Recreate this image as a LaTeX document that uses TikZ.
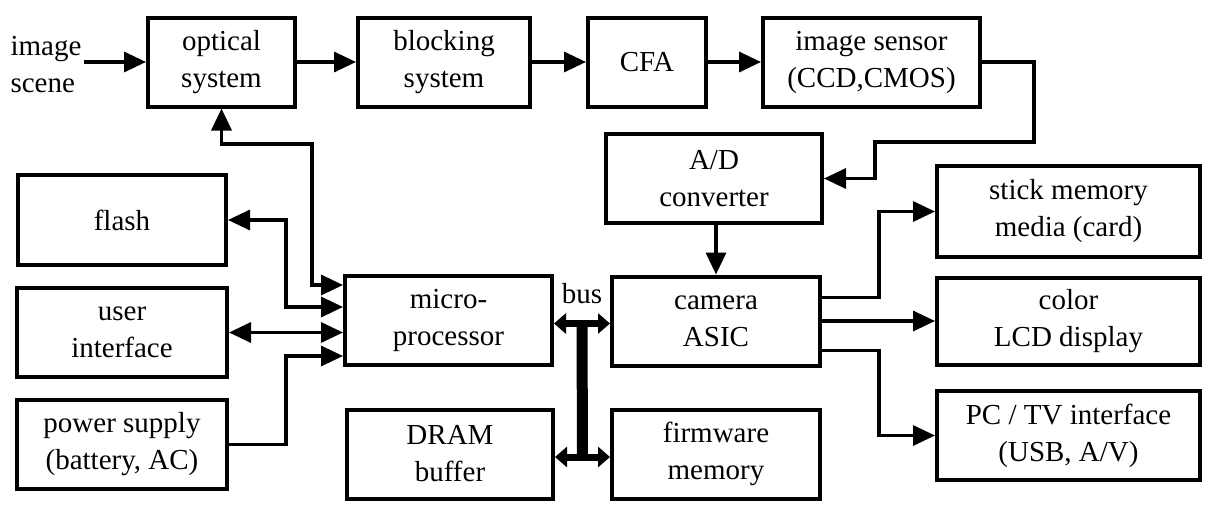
\documentclass[tikz,border=0pt]{standalone}
\usepackage{fontspec}
\setmainfont{Liberation Serif}
\usepackage{tikz}
\usetikzlibrary{calc}
\usetikzlibrary{arrows.meta}
\usetikzlibrary{positioning}
\newcommand\blkfont{\fontsize{14.5}{18.5}\selectfont}
\pgfkeys{tikz/blk/.style={draw,line width=2pt,minimum height=44.5pt,inner sep=0pt,align=center,font=\blkfont}}
\pgfkeys{tikz/wire/.style={line width=1.7pt,>={Triangle[length=11pt,width=10pt]}}}
\pgfkeys{tikz/buswire/.style={line width=3.5pt,>={Triangle[length=6pt,width=10pt]}}}

\begin{document}
\begin{tikzpicture}[x=0.5pt,y=-0.5pt]
    \useasboundingbox (0,0) rectangle (1211,514);
    % capture chain
    \node[align=left,inner sep=1pt,font=\blkfont](scene) at (46,65) {image\\scene};
    \node[blk,minimum width=73.5pt](optical) at (221.5,62) {optical\\system};
    \node[blk,minimum width=86pt](blocking) at (444,62) {blocking\\system};
    \node[blk,minimum width=59pt](cfa) at (647,62) {CFA};
    \node[blk,minimum width=108.5pt](sensor) at (871.5,62) {image sensor\\(CCD,CMOS)};
    \node[blk,minimum width=108pt](adc) at (714,178.5) {A/D\\converter};
    % left column
    \node[blk,minimum width=104pt,minimum height=45pt](flash) at (122,220) {flash};
    \node[blk,minimum width=105pt](user) at (122,332.5) {user\\interface};
    \node[blk,minimum width=105pt](power) at (122,444.5) {power supply\\(battery, AC)};
    % middle
    \node[blk,minimum width=103.5pt](micro) at (448.5,320.5) {micro-\\processor};
    \node[blk,minimum width=104pt](camera) at (716,321) {camera\\ASIC};
    \node[blk,minimum width=103pt](dram) at (450,454) {DRAM\\buffer};
    \node[blk,minimum width=104pt](firmware) at (716,454) {firmware\\memory};
    \node[font=\blkfont,inner sep=1pt](buslabel) at (582,294) {bus};
    % right column
    \node[blk,minimum width=131.5pt,minimum height=45.5pt](stick) at (1068.5,211.5) {stick memory\\media (card)};
    \node[blk,minimum width=131.5pt,minimum height=43.5pt](lcd) at (1068.5,321.5) {color\\LCD display};
    \node[blk,minimum width=131.5pt](pctv) at (1068.5,435.5) {PC / TV interface\\(USB, A/V)};

    \draw[wire,->] (scene.east |- optical.west) -- (optical.west);
    \draw[wire,->] (optical.east) -- (blocking.west);
    \draw[wire,->] (blocking.east) -- (cfa.west);
    \draw[wire,->] (cfa.east) -- (sensor.west);
    \coordinate (s1) at (1034,142);
    \coordinate (s2) at (875,142);
    \draw[wire,->] (sensor.east) -| (s1) -- (s2) |- (adc.east);
    \draw[wire,->] (camera.north |- adc.south) -- (camera.north);

    % control lines into the microprocessor
    \coordinate (m1) at ($(micro.north west)+(0,11)$);
    \coordinate (m2) at ($(micro.north west)+(0,33)$);
    \coordinate (m4) at ($(micro.south west)+(0,-11)$);
    \coordinate (o1) at (312,144);
    \coordinate (f1) at (286,0);
    \draw[wire,<->] (optical.south) |- (o1) |- (m1);
    \draw[wire,<->] (flash.east) -| (f1 |- m2) -- (m2);
    \draw[wire,<->] (user.east) -- (user.east -| micro.west);
    \draw[wire,->] (power.east) -| (f1 |- m4) -- (m4);

    % bus
    \draw[buswire,<->] ($(micro.east)+(0,3)$) -- ($(micro.east -| camera.west)+(0,3)$);
    \draw[buswire,<->] ($(dram.east)+(0,3)$) -- ($(dram.east -| firmware.west)+(0,3)$);
    \draw[line width=5.5pt] ($(micro.east)!0.5!(micro.east -| camera.west)+(0,3)$) -- ($(dram.east)!0.5!(dram.east -| firmware.west)+(0,3)$);

    % outputs
    \coordinate (jx) at (879,0);
    \coordinate (c1) at ($(camera.north east)+(0,23)$);
    \coordinate (c3) at ($(camera.south east)+(0,-17)$);
    \draw[wire,->] (c1) -- (c1 -| jx) |- (stick.west);
    \draw[wire,->] (camera.east) -- (camera.east -| lcd.west);
    \draw[wire,->] (c3) -- (c3 -| jx) |- (pctv.west);
\end{tikzpicture}
\end{document}
